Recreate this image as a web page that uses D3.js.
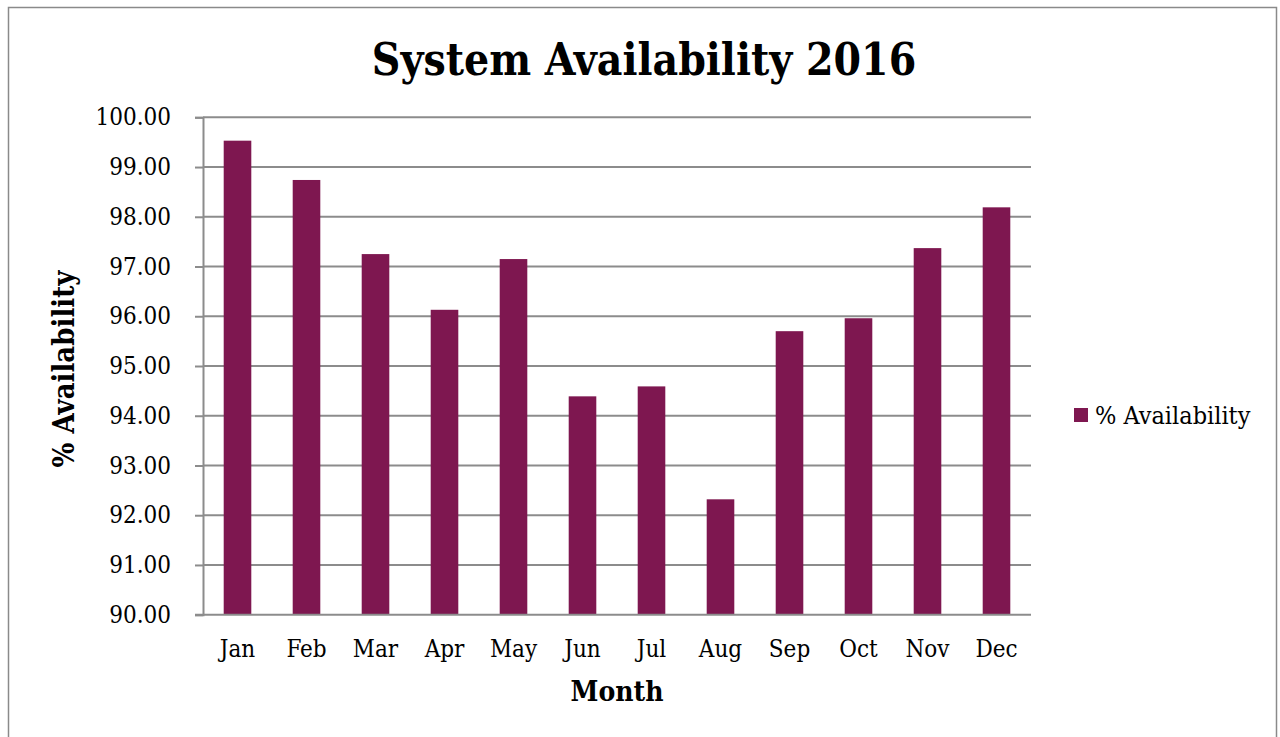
<!DOCTYPE html>
<html>
<head>
<meta charset="utf-8">
<script src="https://cdn.jsdelivr.net/npm/d3@7"></script>
<style>
  body { margin: 0; background: #fff; }
  svg { display: block; font-family: "DejaVu Serif", serif; }
</style>
</head>
<body>
<div id="chart"></div>
<script>
const months = ["Jan", "Feb", "Mar", "Apr", "May", "Jun", "Jul", "Aug", "Sep", "Oct", "Nov", "Dec"];
const availability = [99.53, 98.74, 97.25, 96.13, 97.15, 94.39, 94.59, 92.32, 95.70, 95.96, 97.37, 98.19];
const yTicks = [90, 91, 92, 93, 94, 95, 96, 97, 98, 99, 100];
const seriesName = "% Availability";

const dataset = months.map((m, i) => ({ month: m, value: availability[i] }));

const w = 1280;
const h = 737;
const plotLeft = 203, plotRight = 1031, plotTop = 117.3, plotBottom = 614.7;
const fontFam = "DejaVu Serif Condensed, DejaVu Serif, serif";

const svg = d3.select("#chart")
  .append("svg")
  .attr("width", w)
  .attr("height", h)
  .style("font-family", fontFam);

// outer frame
svg.append("rect")
  .attr("x", 8.5).attr("y", 7.5)
  .attr("width", 1268).attr("height", 740)
  .attr("fill", "none")
  .attr("stroke", "#8a8a8a")
  .attr("stroke-width", 1.5);

const xScale = d3.scaleBand()
  .domain(months)
  .range([plotLeft, plotRight])
  .paddingInner(0.6)
  .paddingOuter(0.3);

const yScale = d3.scaleLinear()
  .domain([90, 100])
  .range([plotBottom, plotTop]);

// gridlines
svg.append("g")
  .selectAll("line")
  .data(yTicks.filter(d => d > 90))
  .enter()
  .append("line")
  .attr("x1", plotLeft)
  .attr("x2", plotRight)
  .attr("y1", d => yScale(d))
  .attr("y2", d => yScale(d))
  .attr("stroke", "#8c8c8c")
  .attr("stroke-width", 2);

svg.selectAll("rect.bar")
  .data(dataset)
  .enter()
  .append("rect")
  .attr("class", "bar")
  .attr("x", d => xScale(d.month))
  .attr("y", d => yScale(d.value))
  .attr("width", xScale.bandwidth())
  .attr("height", d => yScale(90) - yScale(d.value))
  .attr("fill", "#7e1750");

const yAxis = d3.axisLeft(yScale)
  .tickValues(yTicks)
  .tickFormat(d3.format(".2f"))
  .tickSizeOuter(0)
  .tickSize(8)
  .tickPadding(24);

const gy = svg.append("g")
  .attr("transform", "translate(" + plotLeft + ",0)")
  .call(yAxis);
gy.select(".domain").attr("stroke", "#8c8c8c").attr("stroke-width", 2);
gy.selectAll(".tick line").attr("stroke", "#8c8c8c").attr("stroke-width", 2);
gy.selectAll(".tick text")
  .attr("font-size", 24)
  .attr("fill", "#000")
  .attr("font-family", fontFam);

const xAxis = d3.axisBottom(xScale)
  .tickSize(0)
  .tickSizeOuter(0)
  .tickPadding(25);

const gx = svg.append("g")
  .attr("transform", "translate(0," + plotBottom + ")")
  .call(xAxis);
gx.select(".domain").attr("stroke", "#8c8c8c").attr("stroke-width", 2)
  .attr("d", "M" + (plotLeft - 8) + ",0H" + plotRight);
gx.selectAll(".tick text")
  .attr("font-size", 24)
  .attr("fill", "#000")
  .attr("font-family", fontFam);

// title
svg.append("text")
  .attr("x", 644)
  .attr("y", 75)
  .attr("text-anchor", "middle")
  .attr("font-size", 44)
  .attr("font-weight", "bold")
  .text("System Availability 2016");

// axis titles
svg.append("text")
  .attr("x", 617)
  .attr("y", 701)
  .attr("text-anchor", "middle")
  .attr("font-size", 28)
  .attr("font-weight", "bold")
  .text("Month");

svg.append("text")
  .attr("transform", "translate(74,369) rotate(-90)")
  .attr("text-anchor", "middle")
  .attr("font-size", 29)
  .attr("font-weight", "bold")
  .text("% Availability");

// legend
const legend = svg.append("g")
  .attr("transform", "translate(1074,408)");
legend.append("rect")
  .attr("width", 14)
  .attr("height", 14)
  .attr("fill", "#7e1750");
legend.append("text")
  .attr("x", 21)
  .attr("y", 16)
  .attr("font-size", 25)
  .text(seriesName);
</script>
</body>
</html>
